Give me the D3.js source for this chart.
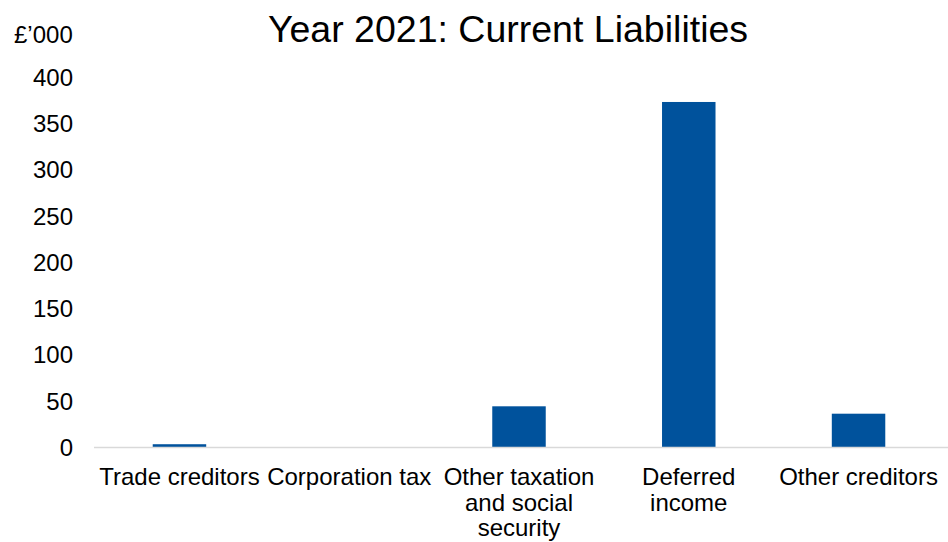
<!DOCTYPE html><head><meta charset="utf-8">
<title>Year 2021: Current Liabilities</title>
<style type="text/css">
body { margin: 0; background: white; }
svg text { font-family: "Liberation Sans", Arial, sans-serif; fill: #000; }
</style>
<script type="text/javascript" src="https://cdn.jsdelivr.net/npm/d3@7"></script>
</head><body>
<div id="chart"></div>
<script type="text/javascript">

var categories = ["Trade creditors", "Corporation tax", "Other taxation and social security", "Deferred income", "Other creditors"];
var labelLines = [["Trade creditors"], ["Corporation tax"], ["Other taxation", "and social", "security"], ["Deferred", "income"], ["Other creditors"]];
var values = [3, 0, 44, 373, 36];
var yTicks = [0, 50, 100, 150, 200, 250, 300, 350, 400];

var width = 948, height = 542;
var margin = {left: 95, right: 5, top: 77, bottom: 95};

var svg = d3.select("#chart").append("svg")
  .attr("width", width).attr("height", height);

var x = d3.scaleBand()
  .domain(categories)
  .range([margin.left, width - margin.right])
  .paddingInner(0.685)
  .paddingOuter(0.34);

var y = d3.scaleLinear()
  .domain([0, 400])
  .range([height - margin.bottom, margin.top]);

// title
svg.append("text")
  .attr("x", 508).attr("y", 42)
  .attr("text-anchor", "middle")
  .style("font-size", "37.5px")
  .text("Year 2021: Current Liabilities");

// units label
svg.append("text")
  .attr("x", 14).attr("y", 43)
  .style("font-size", "24px")
  .text("£’000");

// y axis - labels only
var yAxis = svg.append("g")
  .attr("transform", "translate(73,0)")
  .call(d3.axisLeft(y).tickValues(yTicks).tickSize(0).tickPadding(0));
yAxis.select(".domain").remove();
yAxis.selectAll("text").style("font-size", "24px").attr("dy", "0.35em");

// bars
svg.selectAll("rect.bar")
  .data(values)
  .join("rect").attr("class", "bar")
  .attr("x", (d, i) => x(categories[i]))
  .attr("width", x.bandwidth())
  .attr("y", d => y(d))
  .attr("height", d => y(0) - y(d))
  .attr("fill", "#00529c");

// baseline
svg.append("line")
  .attr("x1", margin.left - 1).attr("x2", width)
  .attr("y1", y(0) + 0.5).attr("y2", y(0) + 0.5)
  .attr("stroke", "#d9d9d9").attr("stroke-width", 1.5);

// x labels
var xl = svg.selectAll("text.xlab")
  .data(categories)
  .join("text").attr("class", "xlab")
  .attr("text-anchor", "middle")
  .style("font-size", "24px")
  .attr("transform", d => "translate(" + (x(d) + x.bandwidth() / 2) + "," + (y(0) + 38) + ")");
xl.each(function(d, i) {
  var t = d3.select(this);
  labelLines[i].forEach(function(s, j) {
    t.append("tspan").attr("x", 0).attr("y", j * 25.5).text(s);
  });
});

</script>
</body></html>
